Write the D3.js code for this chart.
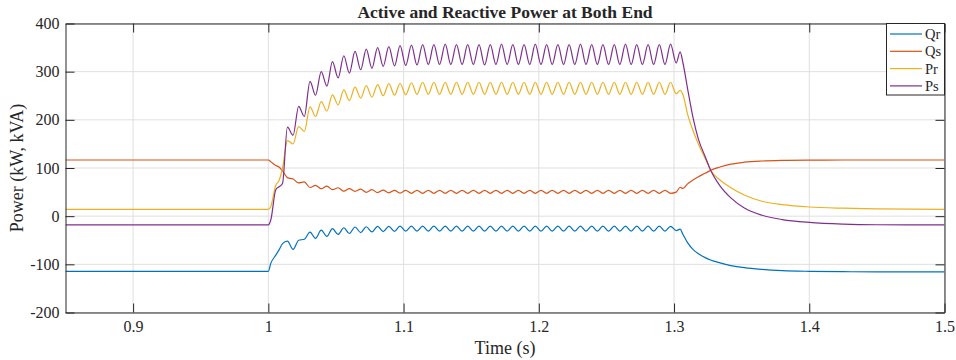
<!DOCTYPE html>
<html>
<head>
<meta charset="utf-8">
<script src="https://cdn.jsdelivr.net/npm/d3@7/dist/d3.min.js"></script>
<style>
    body { margin: 0; background: #fff; }
    svg text { font-family: "Liberation Serif", "Times New Roman", serif !important; fill: #262626; }
</style>
</head>
<body>
<div id="chart"></div>
<script>

// time stamps (s): flat part, step, ~120 Hz extrema, then the release at 1.3 s
var times = [
    0.85, 1.0, 1.0018, 1.0055, 1.0079, 1.0105,
    1.0141, 1.0183, 1.0224, 1.0266, 1.0308, 1.0349, 1.0391, 1.0433, 1.0474, 1.0516,
    1.0558, 1.0599, 1.0641, 1.0683, 1.0724, 1.0766, 1.0808, 1.0849, 1.0891, 1.0933,
    1.0974, 1.1016, 1.1058, 1.1099,
    1.1141, 1.1183, 1.1224, 1.1266, 1.1308, 1.1349, 1.1391, 1.1433, 1.1474, 1.1516,
    1.1558, 1.1599, 1.1641, 1.1683, 1.1724, 1.1766, 1.1808, 1.1849, 1.1891, 1.1933,
    1.1974, 1.2016, 1.2058, 1.2099, 1.2141, 1.2183, 1.2224, 1.2266, 1.2308, 1.2349,
    1.2391, 1.2433, 1.2474, 1.2516, 1.2558, 1.2599, 1.2641, 1.2683, 1.2724, 1.2766,
    1.2808, 1.2849, 1.2891, 1.2933, 1.2974,
    1.3016, 1.3045, 1.3066, 1.3100, 1.3140, 1.3180, 1.3230, 1.3270, 1.3340, 1.3420,
    1.3520, 1.3650, 1.3800, 1.4000, 1.4250, 1.4500, 1.5000
];

var qr = [
    -114.5, -114.5, -98, -81, -70, -57,
    -52, -69, -50, -48, -33, -46, -29, -42, -26, -38,
    -24, -36, -22.5, -34, -22, -32.5, -21, -32, -21, -31.5,
    -20.5, -31, -20.5, -31,
    -20.5, -31, -20.5, -31, -20.5, -31, -20.5, -31, -20.5, -31,
    -20.5, -31, -20.5, -31, -20.5, -31, -20.5, -31, -20.5, -31,
    -20.5, -31, -20.5, -31, -20.5, -31, -20.5, -31, -20.5, -31,
    -20.5, -31, -20.5, -31, -20.5, -31, -20.5, -31, -20.5, -31,
    -20.5, -31, -20.5, -31, -21,
    -30, -27, -38, -55, -69, -78, -86, -91, -97, -102.5,
    -107, -110.5, -113, -114.5, -115.3, -115.6, -115.7
];

var qs = [
    116.6, 116.6, 113, 105, 102, 94,
    80, 77, 69, 71, 59.5, 64, 57, 62.5, 55, 59,
    52, 57, 51.5, 56, 49.5, 55, 49, 54, 48.5, 53.7,
    48, 53.5, 47.5, 53.5,
    47.5, 53.5, 47.5, 53.5, 47.5, 53.5, 47.5, 53.5, 47.5, 53.5,
    47.5, 53.5, 47.5, 53.5, 47.5, 53.5, 47.5, 53.5, 47.5, 53.5,
    47.5, 53.5, 47.5, 53.5, 47.5, 53.5, 47.5, 53.5, 47.5, 53.5,
    47.5, 53.5, 47.5, 53.5, 47.5, 53.5, 47.5, 53.5, 47.5, 53.5,
    47.5, 53.5, 47.5, 53.5, 47.5,
    50, 60, 57.5, 67, 75, 82, 89, 95, 102, 108,
    112, 114.5, 115.8, 116.4, 116.6, 116.6, 116.6
];

var pr = [
    14.3, 14.3, 20, 64, 74, 100,
    157, 150, 186, 176, 227, 207, 238, 218, 252, 231,
    262, 240, 268, 245, 271, 247, 273, 250, 275, 251,
    276, 252, 277, 253,
    278, 253, 278, 253, 278, 253, 278, 253, 278, 253,
    278, 253, 278, 253, 278, 253, 278, 253, 278, 253,
    278, 253, 278, 253, 278, 253, 278, 253, 278, 253,
    278, 253, 278, 253, 278, 253, 278, 253, 278, 253,
    278, 253, 278, 253, 278,
    254, 261, 252, 212, 178, 150, 120, 96, 75, 59,
    44, 31, 24, 19, 16.5, 15.3, 14.3
];

var ps = [
    -18, -18, -8, 55, 61, 68,
    185, 168, 228, 207, 280, 251, 300, 270, 321, 287,
    333, 297, 342, 304, 347, 307, 350, 311, 352, 312,
    354, 313, 355, 314,
    356, 315, 356, 315, 357, 315, 356, 315, 356, 315,
    356, 314, 356, 315, 357, 315, 356, 315, 356, 315,
    357, 315, 356, 315, 356, 315, 356, 315, 357, 315,
    356, 315, 356, 315, 356, 315, 357, 315, 356, 315,
    356, 315, 356, 315, 357,
    318, 341, 318, 265, 205, 160, 124, 96, 63, 38,
    17, 2, -7, -13, -16.5, -17.8, -18.2
];

var seriesNames = ["Qr", "Qs", "Pr", "Ps"];
var seriesColors = ["#0072BD", "#D95319", "#EDB120", "#7E2F8E"];
var xTicks = [0.9, 1.0, 1.1, 1.2, 1.3, 1.4, 1.5];
var yTicks = [-200, -100, 0, 100, 200, 300, 400];

var W = 956, H = 360;
var plotL = 65.5, plotR = 944.5, plotT = 23.5, plotB = 312.5;

var svg = d3.select("#chart").append("svg").attr("width", W).attr("height", H);

var x = d3.scaleLinear().domain([0.85, 1.5]).range([plotL, plotR]);
var y = d3.scaleLinear().domain([-200, 400]).range([plotB, plotT]);

// grid
var grid = svg.append("g").attr("stroke", "#dfdfdf").attr("stroke-width", 1);
xTicks.forEach(function (t) {
    grid.append("line").attr("x1", x(t)).attr("x2", x(t)).attr("y1", plotT).attr("y2", plotB);
});
yTicks.forEach(function (t) {
    grid.append("line").attr("x1", plotL).attr("x2", plotR).attr("y1", y(t)).attr("y2", y(t));
});

// lines
svg.append("clipPath").attr("id", "plotClip").append("rect")
    .attr("x", plotL).attr("y", plotT).attr("width", plotR - plotL).attr("height", plotB - plotT);

var allSeries = [qr, qs, pr, ps];
var line = d3.line().curve(d3.curveMonotoneX);
var plot = svg.append("g").attr("clip-path", "url(#plotClip)");
for (var s = 0; s < allSeries.length; s++) {
    var pts = times.map(function (t, i) { return [x(t), y(allSeries[s][i])]; });
    plot.append("path")
        .attr("d", line(pts))
        .attr("fill", "none")
        .attr("stroke", seriesColors[s])
        .attr("stroke-width", 1.2);
}

// axes (MATLAB box with inward ticks)
var fmtX = function (d) { return String(+d.toFixed(1)); };
var fmtY = function (d) { return String(d); };
var axB = svg.append("g").attr("transform", "translate(0," + plotB + ")")
    .call(d3.axisBottom(x).tickValues(xTicks).tickSizeInner(-9).tickSizeOuter(0).tickPadding(8).tickFormat(fmtX));
var axT = svg.append("g").attr("transform", "translate(0," + plotT + ")")
    .call(d3.axisTop(x).tickValues(xTicks).tickSizeInner(-9).tickSizeOuter(0).tickFormat(""));
var axL = svg.append("g").attr("transform", "translate(" + plotL + ",0)")
    .call(d3.axisLeft(y).tickValues(yTicks).tickSizeInner(-9).tickSizeOuter(0).tickPadding(6).tickFormat(fmtY));
var axR = svg.append("g").attr("transform", "translate(" + plotR + ",0)")
    .call(d3.axisRight(y).tickValues(yTicks).tickSizeInner(-9).tickSizeOuter(0).tickFormat(""));

[axB, axT, axL, axR].forEach(function (a) {
    a.attr("font-size", 16).attr("font-family", "Liberation Serif, serif");
    a.select(".domain").attr("stroke", "#262626");
    a.selectAll(".tick line").attr("stroke", "#262626");
    a.selectAll("text").attr("fill", "#262626").style("font-family", "'Liberation Serif', serif");
});

// titles
svg.append("text").attr("x", (plotL + plotR) / 2).attr("y", 18)
    .attr("text-anchor", "middle").attr("font-size", 17.5).attr("font-weight", "bold")
    .text("Active and Reactive Power at Both End");
svg.append("text").attr("x", (plotL + plotR) / 2).attr("y", 354)
    .attr("text-anchor", "middle").attr("font-size", 18)
    .text("Time (s)");
svg.append("text").attr("transform", "translate(23," + ((plotT + plotB) / 2) + ") rotate(-90)")
    .attr("text-anchor", "middle").attr("font-size", 18)
    .text("Power (kW, kVA)");

// legend
var lg = svg.append("g");
lg.append("rect").attr("x", 886.5).attr("y", plotT).attr("width", plotR - 886.5).attr("height", 71.5)
    .attr("fill", "#fff").attr("stroke", "#262626").attr("stroke-width", 1);
for (var k = 0; k < seriesNames.length; k++) {
    var ly = 34 + k * 17.3;
    lg.append("line").attr("x1", 890).attr("x2", 922).attr("y1", ly).attr("y2", ly)
        .attr("stroke", seriesColors[k]).attr("stroke-width", 1.2);
    lg.append("text").attr("x", 925).attr("y", ly).attr("dy", "0.35em")
        .attr("font-size", 14.5).text(seriesNames[k]);
}

</script>
</body>
</html>
